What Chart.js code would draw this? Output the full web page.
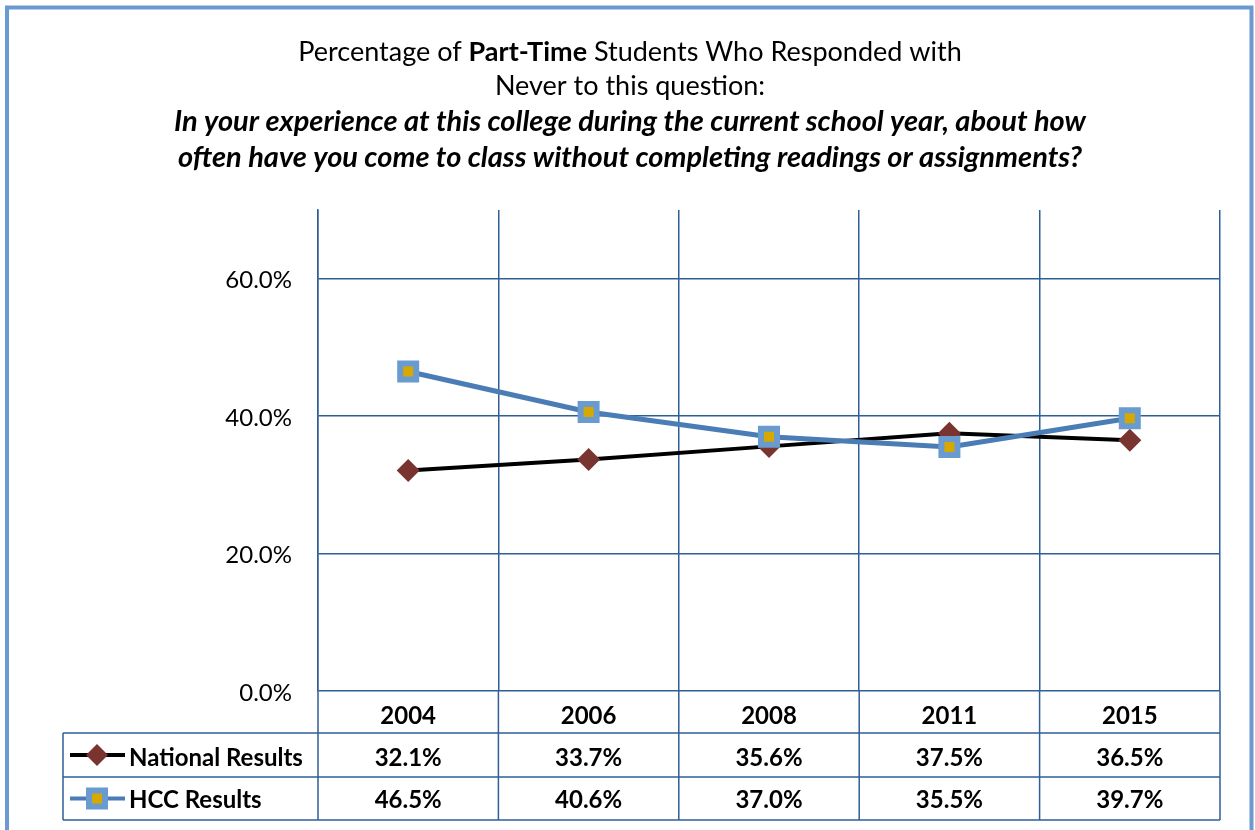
<!DOCTYPE html>
<html>
<head>
<meta charset="utf-8">
<script src="https://cdn.jsdelivr.net/npm/chart.js@4/dist/chart.umd.min.js"></script>
<style>
  html, body { margin: 0; background: #fff; }
  #wrap { width: 1255px; height: 830px; position: relative; }
</style>
</head>
<body>
<div id="wrap"><canvas id="chart"></canvas></div>
<script>
// Datos
const years = ['2004', '2006', '2008', '2011', '2015'];
const nationalResults = [32.1, 33.7, 35.6, 37.5, 36.5];
const hccResults = [46.5, 40.6, 37.0, 35.5, 39.7];
const yTicks = [0, 20, 40, 60];
const seriesNames = ['National Results', 'HCC Results'];

const gridColor = '#2f5f95';
const hccLine = '#4a7db5';
const hccMarker = '#6a9bd0';
const hccFill = '#d6a800';
const natMarker = '#7a3430';
const FONT = 'Lato, "Open Sans", sans-serif';

// Marco y título
const framePlugin = {
    id: 'frame',
    beforeDraw(chart) {
        const ctx = chart.ctx;
        ctx.save();
        ctx.fillStyle = '#fff';
        ctx.fillRect(0, 0, chart.width, chart.height);
        ctx.strokeStyle = '#6a9ad0';
        ctx.lineWidth = 4;
        ctx.beginPath();
        ctx.moveTo(7, 840);
        ctx.lineTo(7, 7.5);
        ctx.lineTo(1251.5, 7.5);
        ctx.lineTo(1251.5, 840);
        ctx.stroke();

        // título con partes en negrita
        const lines = [
            { y: 52, parts: [['Percentage of ', '27px '], ['Part-Time', 'bold 27px '], [' Students Who Responded with', '27px ']] },
            { y: 86, parts: [['Never to this question:', '27px ']] },
            { y: 122, parts: [['In your experience at this college during the current school year, about how', 'italic bold 29px ']] },
            { y: 158, parts: [['often have you come to class without completing readings or assignments?', 'italic bold 29px ']] }
        ];
        ctx.fillStyle = '#000';
        ctx.textBaseline = 'middle';
        ctx.textAlign = 'left';
        lines.forEach(line => {
            let total = 0;
            line.parts.forEach(p => {
                ctx.font = p[1] + FONT;
                total += ctx.measureText(p[0]).width;
            });
            let px = 630 - total / 2;
            line.parts.forEach(p => {
                ctx.font = p[1] + FONT;
                ctx.fillText(p[0], px, line.y);
                px += ctx.measureText(p[0]).width;
            });
        });
        ctx.restore();
    }
};

function drawDiamond(ctx, x, y, r) {
    ctx.beginPath();
    ctx.moveTo(x, y - r);
    ctx.lineTo(x + r, y);
    ctx.lineTo(x, y + r);
    ctx.lineTo(x - r, y);
    ctx.closePath();
    ctx.fillStyle = natMarker;
    ctx.fill();
}

function drawSquare(ctx, x, y) {
    ctx.fillStyle = hccMarker;
    ctx.fillRect(x - 11, y - 11, 22, 22);
    ctx.fillStyle = hccFill;
    ctx.fillRect(x - 5, y - 5, 10, 10);
}

// Tabla de datos bajo el eje
const tablePlugin = {
    id: 'dataTable',
    afterDraw(chart) {
        const { ctx, chartArea: a, scales: { x } } = chart;
        const colW = (a.right - a.left) / years.length;
        const rows = [a.bottom, 733, 777, 820];
        const tableLeft = 63;
        ctx.save();
        ctx.strokeStyle = gridColor;
        ctx.lineWidth = 1.5;
        ctx.beginPath();
        for (let i = 1; i < rows.length; i++) {
            ctx.moveTo(tableLeft, rows[i]);
            ctx.lineTo(a.right, rows[i]);
        }
        for (let i = 0; i <= years.length; i++) {
            const px = a.left + i * colW;
            ctx.moveTo(px, a.bottom);
            ctx.lineTo(px, rows[3]);
        }
        ctx.moveTo(tableLeft, rows[1]);
        ctx.lineTo(tableLeft, rows[3]);
        ctx.stroke();

        ctx.fillStyle = '#000';
        ctx.font = 'bold 24px ' + FONT;
        ctx.textAlign = 'center';
        ctx.textBaseline = 'middle';
        years.forEach((yr, i) => {
            const cx = x.getPixelForValue(i);
            ctx.fillText(yr, cx, (rows[0] + rows[1]) / 2 + 4);
            ctx.fillText(nationalResults[i].toFixed(1) + '%', cx, (rows[1] + rows[2]) / 2 + 3);
            ctx.fillText(hccResults[i].toFixed(1) + '%', cx, (rows[2] + rows[3]) / 2 + 2);
        });

        // claves de la leyenda
        const y1 = (rows[1] + rows[2]) / 2;
        const y2 = (rows[2] + rows[3]) / 2;
        ctx.lineWidth = 4;
        ctx.strokeStyle = '#000';
        ctx.beginPath(); ctx.moveTo(70, y1); ctx.lineTo(125, y1); ctx.stroke();
        drawDiamond(ctx, 97, y1, 11);
        ctx.strokeStyle = hccLine;
        ctx.beginPath(); ctx.moveTo(70, y2); ctx.lineTo(125, y2); ctx.stroke();
        drawSquare(ctx, 97, y2);

        ctx.fillStyle = '#000';
        ctx.textAlign = 'left';
        ctx.fillText(seriesNames[0], 129, y1 + 3);
        ctx.fillText(seriesNames[1], 129, y2 + 2);
        ctx.restore();
    }
};

new Chart(document.getElementById('chart'), {
    type: 'line',
    data: {
        labels: years,
        datasets: [
            {
                label: seriesNames[0],
                data: nationalResults,
                borderColor: '#000',
                borderWidth: 4,
                pointStyle: 'rectRot',
                pointRadius: 11.5,
                pointBackgroundColor: natMarker,
                pointBorderColor: natMarker,
                pointBorderWidth: 0,
                tension: 0,
                order: 2
            },
            {
                label: seriesNames[1],
                data: hccResults,
                borderColor: hccLine,
                borderWidth: 5,
                pointStyle: 'rect',
                pointRadius: 11.3,
                pointBackgroundColor: hccFill,
                pointBorderColor: hccMarker,
                pointBorderWidth: 6,
                tension: 0,
                order: 1
            }
        ]
    },
    options: {
        responsive: true,
        maintainAspectRatio: false,
        animation: false,
        layout: { padding: { left: 218, right: 35, top: 210, bottom: 139 } },
        plugins: {
            legend: { display: false },
            title: { display: false },
            tooltip: { enabled: false }
        },
        scales: {
            x: {
                offset: true,
                grid: { offset: true, color: gridColor, lineWidth: 1.5, drawTicks: false },
                border: { display: false },
                ticks: { display: false },
                afterFit(scale) { scale.height = 0; }
            },
            y: {
                min: 0,
                max: 70,
                afterBuildTicks(scale) { scale.ticks = yTicks.map(v => ({ value: v })); },
                afterFit(scale) { scale.width = 100; },
                grid: { color: gridColor, lineWidth: 1.5, drawTicks: false },
                border: { display: true, color: gridColor, width: 1.5 },
                ticks: {
                    padding: 26,
                    labelOffset: 2,
                    color: '#000',
                    font: { family: FONT, size: 24 },
                    callback: v => v.toFixed(1) + '%'
                }
            }
        }
    },
    plugins: [framePlugin, tablePlugin]
});
</script>
</body>
</html>
